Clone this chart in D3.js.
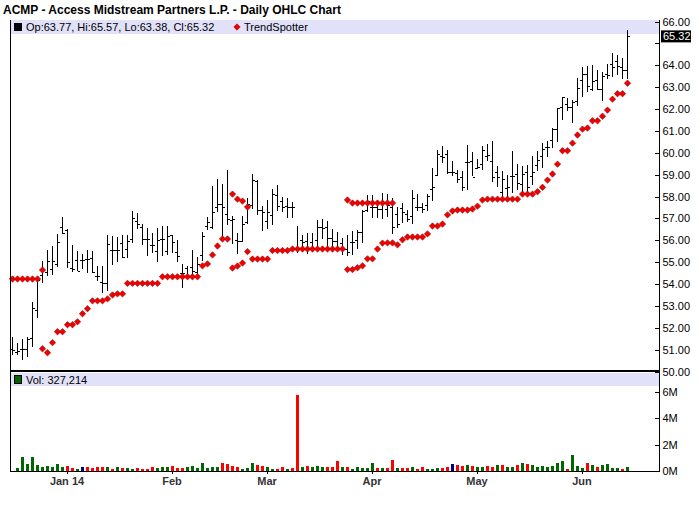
<!DOCTYPE html>
<html lang="en">
<head>
<meta charset="UTF-8" />
<title>ACMP Daily OHLC</title>
<script src="https://cdn.jsdelivr.net/npm/d3@7"></script>
<style>
  body { margin: 0; background: #fff; }
  text { font-family: "Liberation Sans", Arial, sans-serif; }
  .axis path { display: none; }
  .axis line { stroke: #000; shape-rendering: crispEdges; }
  .axis text { font-size: 11px; fill: #000; }
  .xaxis text { font-weight: bold; fill: #333; }
</style>
</head>
<body>
<svg id="chart" width="700" height="512"></svg>
<script>
// trading days shown on the chart
const dates = [
  "2013-12-16","2013-12-17","2013-12-18","2013-12-19","2013-12-20","2013-12-23","2013-12-24","2013-12-26","2013-12-27","2013-12-30","2013-12-31",
  "2014-01-02","2014-01-03","2014-01-06","2014-01-07","2014-01-08","2014-01-09","2014-01-10","2014-01-13","2014-01-14","2014-01-15","2014-01-16","2014-01-17",
  "2014-01-21","2014-01-22","2014-01-23","2014-01-24","2014-01-27","2014-01-28","2014-01-29","2014-01-30","2014-01-31",
  "2014-02-03","2014-02-04","2014-02-05","2014-02-06","2014-02-07","2014-02-10","2014-02-11","2014-02-12","2014-02-13","2014-02-14",
  "2014-02-18","2014-02-19","2014-02-20","2014-02-21","2014-02-24","2014-02-25","2014-02-26","2014-02-27","2014-02-28",
  "2014-03-03","2014-03-04","2014-03-05","2014-03-06","2014-03-07","2014-03-10","2014-03-11","2014-03-12","2014-03-13","2014-03-14",
  "2014-03-17","2014-03-18","2014-03-19","2014-03-20","2014-03-21","2014-03-24","2014-03-25","2014-03-26","2014-03-27","2014-03-28","2014-03-31",
  "2014-04-01","2014-04-02","2014-04-03","2014-04-04","2014-04-07","2014-04-08","2014-04-09","2014-04-10","2014-04-11","2014-04-14","2014-04-15",
  "2014-04-16","2014-04-17","2014-04-21","2014-04-22","2014-04-23","2014-04-24","2014-04-25","2014-04-28","2014-04-29","2014-04-30",
  "2014-05-01","2014-05-02","2014-05-05","2014-05-06","2014-05-07","2014-05-08","2014-05-09","2014-05-12","2014-05-13","2014-05-14","2014-05-15",
  "2014-05-16","2014-05-19","2014-05-20","2014-05-21","2014-05-22","2014-05-23","2014-05-27","2014-05-28","2014-05-29","2014-05-30",
  "2014-06-02","2014-06-03","2014-06-04","2014-06-05","2014-06-06","2014-06-09","2014-06-10","2014-06-11","2014-06-12","2014-06-13"
];

const open = [
  51.04,50.88,51.04,51.04,51.54,52.82,54.40,54.57,54.69,54.92,56.62,
  56.47,54.72,55.10,55.11,55.15,55.19,54.37,54.08,54.05,55.57,55.57,55.88,
  55.60,56.06,56.89,56.62,56.06,55.80,55.53,56.06,55.53,
  56.24,55.45,54.49,54.72,54.79,54.57,55.34,56.67,56.59,57.50,
  57.66,57.20,56.93,56.00,55.96,56.85,57.63,58.72,57.40,
  56.90,57.16,58.07,57.81,57.58,57.53,55.60,56.01,55.98,55.90,
  56.01,56.62,56.62,56.10,55.98,55.86,55.60,55.90,56.01,56.36,57.38,
  57.53,57.53,57.43,57.43,57.50,57.20,57.47,57.20,57.12,57.53,57.53,
  57.63,58.34,58.98,59.86,59.94,59.13,59.06,58.87,59.56,59.63,
  59.30,59.48,59.86,59.63,59.10,58.19,58.40,58.92,59.03,58.57,59.10,
  58.95,59.45,59.86,60.24,60.58,61.08,62.11,62.22,62.10,62.37,
  63.32,63.62,62.91,63.32,62.91,63.59,64.08,64.20,63.90,63.77
];
const high = [
  51.54,51.29,51.47,51.54,53.14,54.31,55.02,55.52,55.71,56.26,57.03,
  56.47,55.78,55.48,55.37,55.52,55.48,54.79,54.79,56.21,56.16,56.13,56.24,
  56.21,57.31,57.23,56.70,56.52,56.29,56.52,56.62,56.62,
  56.24,55.98,54.89,54.79,55.53,55.19,56.36,57.02,58.45,58.80,
  58.54,59.21,57.08,56.32,57.08,57.93,59.00,58.75,57.54,
  57.84,58.30,58.49,57.96,57.91,57.73,56.62,56.21,56.29,56.29,
  56.89,56.93,56.85,56.47,56.36,56.10,56.24,56.39,56.44,57.38,58.04,
  58.04,57.84,58.14,58.11,57.92,57.50,57.70,57.38,58.26,58.11,57.66,
  58.11,59.28,60.09,60.27,60.12,59.59,59.18,59.13,60.32,60.01,
  59.67,60.27,60.40,60.50,59.36,59.13,58.95,60.05,59.45,59.36,59.41,
  59.82,60.05,60.44,60.52,61.13,62.04,62.53,62.50,62.41,63.40,
  63.90,63.93,63.97,63.74,63.67,64.02,64.55,64.43,64.31,65.57
];
const low = [
  50.78,50.78,50.53,50.70,51.16,52.45,54.08,54.38,54.42,54.81,56.29,
  54.76,54.58,54.61,54.69,54.53,54.53,54.16,53.62,53.70,54.87,55.02,55.22,
  55.22,55.88,56.52,55.80,55.30,55.45,55.04,55.30,55.37,
  55.45,55.04,53.85,54.23,54.23,54.34,55.07,56.47,56.52,57.32,
  56.06,56.74,55.83,55.40,55.93,56.75,57.43,57.20,56.46,
  56.56,56.74,57.35,57.31,57.05,57.05,55.45,55.56,55.40,55.49,
  55.75,56.10,55.71,55.49,55.53,55.37,55.30,55.37,55.63,55.90,57.31,
  57.05,57.05,57.00,57.08,56.32,56.59,56.82,56.85,56.77,57.35,57.27,
  57.35,57.81,58.95,59.56,59.06,58.95,58.64,58.26,58.34,58.95,
  59.28,59.25,59.63,58.68,58.45,57.96,57.96,58.19,58.34,58.14,58.11,
  58.57,59.18,59.33,59.82,60.24,60.52,61.54,61.95,61.38,62.15,
  62.56,62.79,62.83,62.88,62.37,63.41,63.47,63.56,63.41,63.38
];
const close = [
  51.00,50.93,51.04,51.50,52.90,54.20,54.64,55.07,55.07,55.94,56.35,
  55.00,54.69,54.61,55.11,55.15,54.53,54.37,54.05,55.83,55.57,55.57,55.22,
  55.98,57.02,56.74,56.06,56.06,55.80,56.01,56.06,56.18,
  55.90,55.30,54.49,54.35,54.60,54.90,56.18,56.85,57.27,57.66,
  57.51,56.97,56.97,55.98,56.75,57.66,58.75,57.38,57.27,
  57.27,58.11,57.58,57.53,57.53,57.50,55.60,55.90,55.60,55.65,
  56.62,56.56,56.10,55.98,55.60,55.60,55.45,55.90,56.39,57.32,57.81,
  57.53,57.43,57.70,57.61,56.60,56.74,57.27,56.97,57.92,57.53,57.43,
  58.04,58.42,59.94,59.79,59.10,59.10,58.80,58.42,59.56,58.87,
  59.36,60.12,59.91,58.87,58.87,58.80,58.45,58.95,58.60,59.05,58.42,
  59.13,59.66,60.17,60.27,61.08,62.04,62.53,62.07,62.34,62.98,
  63.62,63.06,63.26,62.91,63.52,63.56,63.90,63.95,63.77,65.32
];

// TrendSpotter dots: the line above price and the line below price
const trendAbove = [
  54.23,54.23,54.23,54.23,54.23,54.23,54.64,null,null,null,null,
  null,null,null,null,null,null,null,null,null,null,null,null,
  null,null,null,null,null,null,null,null,null,
  null,null,null,null,null,null,null,null,null,null,
  null,null,58.11,57.88,57.79,57.52,null,null,null,
  null,null,null,null,null,null,null,null,null,null,
  null,null,null,null,null,null,57.84,57.70,57.70,57.70,57.70,
  57.70,57.70,57.70,57.70,57.70,null,null,null,null,null,null,
  null,null,null,null,null,null,null,null,null,null,
  null,null,null,null,null,null,null,null,null,null,null,
  null,null,null,null,null,null,null,null,null,null,
  null,null,null,null,null,null,null,null,null,null
];
const trendBelow = [
  null,null,null,null,null,null,51.04,50.86,51.32,51.82,51.82,
  52.14,52.14,52.27,52.64,52.87,53.23,53.23,53.23,53.32,53.50,53.55,53.55,
  54.03,54.03,54.03,54.03,54.03,54.03,54.03,54.33,54.33,
  54.33,54.33,54.33,54.33,54.33,54.33,54.83,54.92,55.33,55.74,
  56.06,56.06,54.73,54.82,54.96,55.48,55.14,55.14,55.14,
  55.14,55.53,55.53,55.53,55.53,55.60,55.60,55.60,55.60,55.60,
  55.60,55.60,55.60,55.60,55.60,55.60,54.66,54.66,54.74,54.83,55.15,
  55.15,55.60,55.87,55.88,55.88,55.79,56.02,56.15,56.15,56.15,56.15,
  56.29,56.65,56.65,56.74,57.16,57.34,57.38,57.38,57.38,57.43,
  57.56,57.84,57.88,57.88,57.88,57.88,57.88,57.88,57.88,58.11,58.11,
  58.11,58.22,58.42,58.75,59.03,59.48,60.09,60.09,60.44,60.81,
  61.08,61.13,61.46,61.46,61.67,61.95,62.45,62.70,62.70,63.18
];

const volume = [
  0,260000,1030000,560000,1030000,490000,330000,410000,330000,560000,330000,
  410000,260000,180000,330000,330000,260000,330000,330000,330000,180000,330000,260000,
  260000,180000,260000,180000,180000,330000,260000,330000,330000,
  410000,260000,260000,330000,410000,260000,640000,260000,330000,330000,
  640000,560000,410000,330000,180000,260000,640000,490000,410000,
  330000,180000,180000,330000,180000,260000,5750000,330000,410000,330000,
  410000,330000,330000,330000,720000,330000,330000,180000,330000,260000,260000,
  640000,260000,260000,260000,870000,260000,260000,260000,330000,180000,330000,
  180000,180000,260000,260000,330000,560000,490000,410000,490000,410000,
  330000,330000,410000,330000,490000,490000,330000,330000,490000,640000,560000,
  490000,330000,410000,330000,410000,640000,720000,180000,1180000,410000,
  260000,640000,490000,330000,490000,560000,260000,260000,180000,327214
];
// 1 = close up, -1 = close down, 0 = unchanged
const volChange = [
  1,1,1,1,1,1,1,1,1,1,1,
  -1,-1,1,0,-1,-1,-1,-1,1,-1,1,-1,
  1,1,-1,-1,-1,-1,1,1,1,
  -1,-1,-1,1,1,1,1,1,1,1,
  -1,-1,-1,-1,1,1,1,-1,-1,
  1,1,-1,-1,1,-1,-1,1,-1,1,
  1,1,-1,-1,-1,1,-1,1,1,1,1,
  1,-1,1,-1,-1,1,-1,-1,1,-1,-1,
  1,1,1,-1,-1,0,-1,-1,1,-1,
  1,1,-1,-1,1,-1,1,1,-1,1,-1,
  1,1,1,1,1,1,1,-1,1,1,
  1,-1,1,-1,1,1,1,1,-1,1
];

const monthStarts = ["2014-01-02","2014-02-03","2014-03-03","2014-04-01","2014-05-01","2014-06-02"];
const monthLabels = ["Jan 14","Feb","Mar","Apr","May","Jun"];
const priceTicks = [50,51,52,53,54,55,56,57,58,59,60,61,62,63,64,65,66];
const volumeTicks = [0,2000000,4000000,6000000];

const svg = d3.select("#chart");
const plotLeft = 10, plotRight = 659;

const x = d3.scaleBand().domain(dates).range([9.5, 9.5 + dates.length * 5]);
const y = d3.scaleLinear().domain([50, 66]).range([371.5, 21.5]);
const yv = d3.scaleLinear().domain([0, 7500000]).range([471, 372]);
const cx = d => Math.floor(x(d) + x.bandwidth() / 2) + 0.5;

// title
svg.append("text")
  .attr("x", 3).attr("y", 14)
  .style("font-weight", "bold").style("font-size", "12px")
  .text("ACMP - Access Midstream Partners L.P. - Daily OHLC Chart");

// legend bands
svg.append("rect").attr("x", plotLeft).attr("y", 20).attr("width", plotRight - plotLeft).attr("height", 14).attr("fill", "#e1e1fa");
svg.append("rect").attr("x", plotLeft).attr("y", 373).attr("width", plotRight - plotLeft).attr("height", 13).attr("fill", "#e1e1fa");

const n = dates.length - 1;
const f2 = d3.format(".2f");
svg.append("rect").attr("x", 14).attr("y", 23).attr("width", 8).attr("height", 8).attr("fill", "#000");
svg.append("text").attr("x", 26).attr("y", 31).style("font-size", "11px")
  .text(`Op:${f2(open[n])}, Hi:${f2(high[n])}, Lo:${f2(low[n])}, Cl:${f2(close[n])}`);

const diamond = "M0,-3.2L3.2,0L0,3.2L-3.2,0Z";
svg.append("path").attr("d", diamond).attr("transform", "translate(237,27)")
  .attr("fill", "#f00000").attr("stroke", "#a00000").attr("stroke-width", 0.6);
svg.append("text").attr("x", 244).attr("y", 31).style("font-size", "11px").text("TrendSpotter");

svg.append("rect").attr("x", 14.5).attr("y", 375.5).attr("width", 7).attr("height", 8)
  .attr("fill", "#006600").attr("stroke", "#000").attr("stroke-width", 1);
svg.append("text").attr("x", 26).attr("y", 384).style("font-size", "11px")
  .text("Vol: " + d3.format(",")(volume[n]));

// OHLC bars
const bars = svg.append("g").attr("stroke", "#000").attr("stroke-width", 1).attr("shape-rendering", "crispEdges");
dates.forEach((d, i) => {
  const c = cx(d);
  bars.append("line").attr("x1", c).attr("x2", c).attr("y1", y(high[i]) - 0.5).attr("y2", y(low[i]) + 0.5);
  bars.append("line").attr("x1", c - 2.5).attr("x2", c).attr("y1", Math.round(y(open[i])) + 0.5).attr("y2", Math.round(y(open[i])) + 0.5);
  bars.append("line").attr("x1", c).attr("x2", c + 2.5).attr("y1", Math.round(y(close[i])) + 0.5).attr("y2", Math.round(y(close[i])) + 0.5);
});

// TrendSpotter dots
const dots = svg.append("g");
[trendAbove, trendBelow].forEach(series => {
  dots.selectAll(null)
    .data(dates.map((d, i) => ({ d, v: series[i] })).filter(p => p.v !== null))
    .enter().append("path")
    .attr("d", diamond)
    .attr("transform", p => `translate(${cx(p.d)},${y(p.v)})`)
    .attr("fill", "#f00000").attr("stroke", "#a00000").attr("stroke-width", 0.6);
});

// volume bars
const volColor = v => v > 0 ? "#006600" : v < 0 ? "#ff0000" : "#000080";
svg.append("g").attr("shape-rendering", "crispEdges")
  .selectAll("rect").data(dates).enter().append("rect")
  .attr("x", d => cx(d) - 1.5)
  .attr("y", (d, i) => yv(volume[i]))
  .attr("width", 3)
  .attr("height", (d, i) => yv(0) - yv(volume[i]))
  .attr("fill", (d, i) => volColor(volChange[i]));

// frame lines
svg.append("line").attr("x1", plotLeft + 0.5).attr("x2", plotLeft + 0.5).attr("y1", 20).attr("y2", 471).attr("stroke", "#000");
svg.append("line").attr("x1", plotRight + 0.5).attr("x2", plotRight + 0.5).attr("y1", 20).attr("y2", 472).attr("stroke", "#000");
svg.append("rect").attr("x", plotLeft).attr("y", 370).attr("width", plotRight - plotLeft + 1).attr("height", 2).attr("fill", "#000");
svg.append("line").attr("x1", plotLeft).attr("x2", plotRight + 1).attr("y1", 471.5).attr("y2", 471.5).attr("stroke", "#000");

// right price axis
const lastY = y(close[n]);
const pAxis = svg.append("g").attr("class", "axis")
  .attr("transform", `translate(${plotRight + 0.5},0)`)
  .call(d3.axisRight(y).tickValues(priceTicks).tickFormat(f2).tickSizeInner(-5).tickSizeOuter(0).tickPadding(3));
pAxis.selectAll(".tick text").filter(d => Math.abs(y(d) - lastY) < 10).remove();

// last close marker
svg.append("rect").attr("x", plotRight + 2).attr("y", lastY - 6).attr("width", 30).attr("height", 12).attr("fill", "#000");
svg.append("text").attr("x", plotRight + 4).attr("y", lastY + 4).attr("fill", "#fff").style("font-size", "11px").text(f2(close[n]));

// right volume axis
svg.append("g").attr("class", "axis")
  .attr("transform", `translate(${plotRight + 0.5},0)`)
  .call(d3.axisRight(yv).tickValues(volumeTicks).tickFormat(d => d / 1000000 + "M").tickSizeInner(-5).tickSizeOuter(0).tickPadding(3));

// month axis
svg.append("g").attr("class", "axis xaxis")
  .attr("transform", "translate(0,471)")
  .call(d3.axisBottom(x).tickValues(monthStarts).tickFormat((d, i) => monthLabels[i]).tickSize(3).tickSizeOuter(0));
</script>
</body>
</html>
